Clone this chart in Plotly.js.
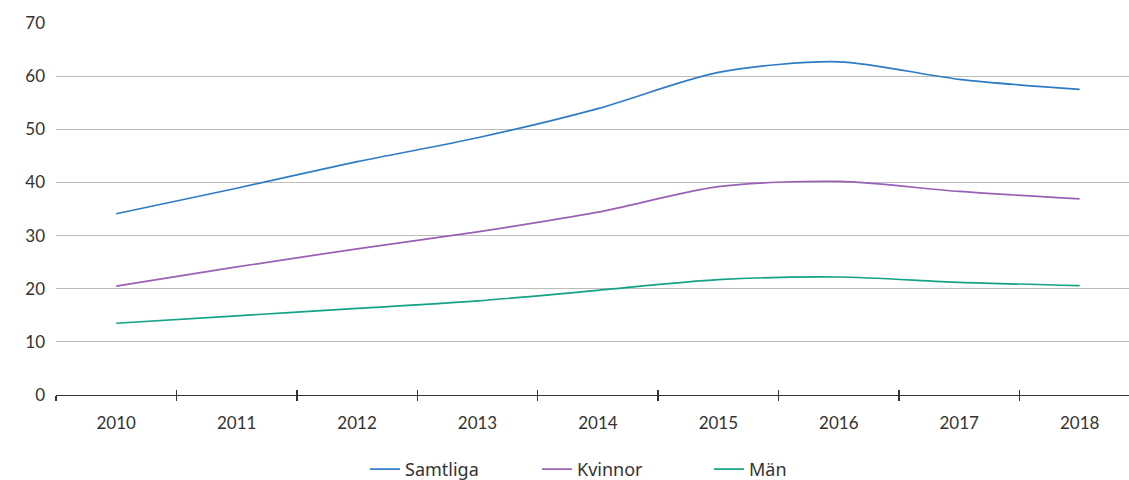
<!DOCTYPE html>
<html>
<head>
<meta charset="utf-8">
<script src="https://cdn.plot.ly/plotly-3.0.1.min.js"></script>
<style>
  html, body { margin: 0; padding: 0; background: #fff; }
  #chart { width: 1129px; height: 480px; }
</style>
</head>
<body>
<div id="chart"></div>
<script>
// Andel (procent) per år och grupp
const years = ['2010', '2011', '2012', '2013', '2014', '2015', '2016', '2017', '2018'];
const samtliga = [34.1, 38.9, 43.9, 48.4, 53.9, 60.7, 62.7, 59.4, 57.5];
const kvinnor  = [20.5, 24.1, 27.5, 30.7, 34.4, 39.2, 40.2, 38.3, 36.9];
const man      = [13.5, 14.9, 16.3, 17.7, 19.7, 21.7, 22.2, 21.2, 20.6];

const seriesNames = ['Samtliga', 'Kvinnor', 'Män'];
const seriesColors = ['#2f7cc6', '#9b5fb5', '#14a386'];
const seriesValues = [samtliga, kvinnor, man];

const traces = seriesValues.map((vals, i) => ({
  type: 'scatter',
  mode: 'lines',
  name: seriesNames[i],
  x: years,
  y: vals,
  line: { color: seriesColors[i], width: 1.7, shape: 'spline', smoothing: 0.8 },
  hoverinfo: 'x+y+name'
}));

// Empty trace on a twin axis so the boundary ticks cross the axis line
traces.push({
  type: 'scatter', mode: 'lines', x: years, y: samtliga.map(() => null),
  xaxis: 'x2', showlegend: false, hoverinfo: 'skip'
});

const font = { family: 'Lato, "Open Sans", sans-serif', size: 17, color: '#333333' };
const xRange = [-0.5, 8.41];

const layout = {
  width: 1129,
  height: 480,
  margin: { l: 56, r: 0, t: 23, b: 85, autoexpand: false },
  paper_bgcolor: '#ffffff',
  plot_bgcolor: '#ffffff',
  font: font,
  showlegend: true,
  legend: {
    orientation: 'h',
    x: 0.288, xanchor: 'left',
    y: -0.2, yanchor: 'middle',
    font: { family: '"Source Sans Pro", "Noto Sans", sans-serif', size: 18, color: '#333333' },
    entrywidth: 127,
    entrywidthmode: 'pixels',
    traceorder: 'normal'
  },
  xaxis: {
    type: 'category',
    range: xRange,
    showgrid: false,
    zeroline: false,
    showline: true,
    linecolor: '#333333',
    linewidth: 1.3,
    ticks: 'outside',
    tickson: 'boundaries',
    ticklen: 5,
    tickcolor: '#333333',
    tickwidth: 1.3,
    ticklabelstandoff: 12,
    tickfont: font,
    fixedrange: true
  },
  xaxis2: {
    type: 'category',
    overlaying: 'x',
    anchor: 'y',
    side: 'bottom',
    range: xRange,
    categoryarray: years,
    showgrid: false,
    zeroline: false,
    showline: false,
    ticks: 'inside',
    tickson: 'boundaries',
    ticklen: 5,
    tickcolor: '#333333',
    tickwidth: 1.3,
    showticklabels: false,
    fixedrange: true
  },
  yaxis: {
    range: [0, 70],
    tickvals: [0, 10, 20, 30, 40, 50, 60, 70],
    showgrid: true,
    gridcolor: '#bdbdbd',
    gridwidth: 1.2,
    zeroline: false,
    showline: false,
    ticks: '',
    ticklabelstandoff: 10,
    tickfont: font,
    fixedrange: true
  }
};

Plotly.newPlot('chart', traces, layout, { displayModeBar: false, staticPlot: true });
</script>
</body>
</html>
